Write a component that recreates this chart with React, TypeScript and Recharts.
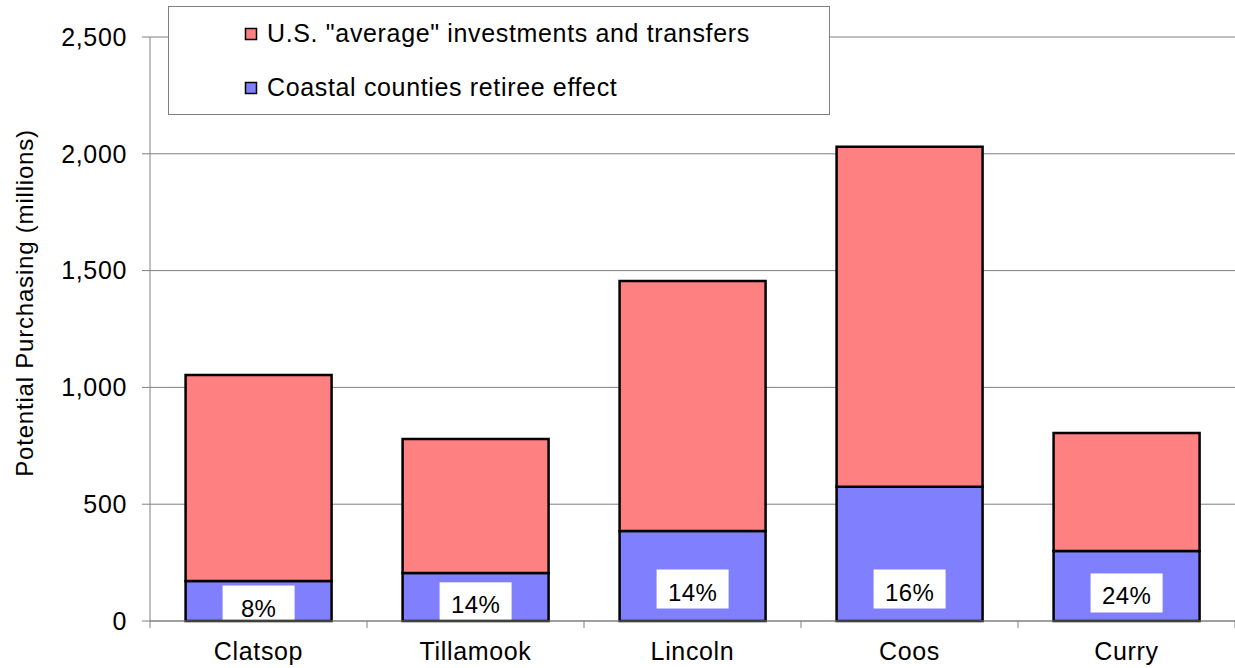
import React from "react";
import { BarChart, Bar, XAxis, YAxis, CartesianGrid, Legend, LabelList } from "recharts";

const counties = ["Clatsop", "Tillamook", "Lincoln", "Coos", "Curry"];
const retireeEffect = [171, 205, 385, 575, 300];
const usAverage = [882, 574, 1070, 1455, 505];
const retireeShareLabels = ["8%", "14%", "14%", "16%", "24%"];
const yTicks = [0, 500, 1000, 1500, 2000, 2500];
const seriesNames = {
  retiree: "Coastal counties retiree effect",
  average: 'U.S. "average" investments and transfers',
};

const data = counties.map((c, i) => ({
  county: c,
  retiree: retireeEffect[i],
  average: usAverage[i],
  share: retireeShareLabels[i],
}));

const FONT = '"Liberation Sans", Arial, sans-serif';
const GRAY = "#808080";
const RED = "#FF8080";
const BLUE = "#8080FF";
const FS = 25;
const LS = 0.65;

const CategoryTick = (props: any) => {
  const { x, y, payload, index, visibleTicksCount } = props;
  const half = payload && payload.offset != null ? payload.offset : 108.5;
  return (
    <g>
      <line x1={x - half} x2={x - half} y1={y} y2={y + 7} stroke={GRAY} strokeWidth={1} />
      {index === visibleTicksCount - 1 && (
        <line x1={x + half} x2={x + half} y1={y} y2={y + 7} stroke={GRAY} strokeWidth={1} />
      )}
      <text
        x={x}
        y={y + 39}
        textAnchor="middle"
        fill="#000"
        fontSize={FS}
        fontFamily={FONT}
        letterSpacing={LS}
      >
        {payload.value}
      </text>
    </g>
  );
};

const ShareLabel = (props: any) => {
  const { x, y, width, height, value } = props;
  const bottom = y + height;
  const cy = bottom - Math.min(height * 0.4, 32);
  const bw = 72;
  const bh = 39;
  const top = cy - bh / 2;
  const boxBottom = Math.min(cy + bh / 2, bottom - 1.5);
  const cx = x + width / 2;
  return (
    <g>
      <rect x={cx - bw / 2} y={top} width={bw} height={boxBottom - top} fill="#fff" />
      <text
        x={cx}
        y={cy + 3}
        textAnchor="middle"
        dominantBaseline="central"
        fill="#000"
        fontSize={24}
        fontFamily={FONT}
        letterSpacing={0.3}
      >
        {value}
      </text>
    </g>
  );
};

const LegendBox = (props: any) => {
  const payload = (props.payload || []).slice().reverse();
  return (
    <svg width={663} height={109} style={{ display: "block" }}>
      <rect x={0.5} y={0.5} width={661} height={108} fill="#fff" stroke={GRAY} strokeWidth={1} />
      {payload.map((p: any, i: number) => {
        const baseline = 36 + i * 54;
        return (
          <g key={i}>
            <rect x={77.5} y={baseline - 13.5} width={11} height={11} fill={p.color} stroke="#000" strokeWidth={1.5} />
            <text x={99} y={baseline} fill="#000" fontSize={FS} fontFamily={FONT} letterSpacing={LS}>
              {p.value}
            </text>
          </g>
        );
      })}
    </svg>
  );
};

const YTitle = () => (
  <text
    x={24}
    y={303}
    transform="rotate(-90, 24, 303)"
    textAnchor="middle"
    dominantBaseline="central"
    fill="#000"
    fontSize={24}
    fontFamily={FONT}
    letterSpacing={0.8}
  >
    Potential Purchasing (millions)
  </text>
);

export default function App() {
  return (
    <div style={{ position: "absolute", left: 0, top: 0, width: 1235, height: 668, background: "#fff" }}>
      <BarChart
        width={1235}
        height={668}
        data={data}
        margin={{ top: 37, right: 0, bottom: 0, left: 0 }}
        barCategoryGap="16.4%"
      >
        <CartesianGrid vertical={false} stroke={GRAY} strokeWidth={1} />
        <XAxis
          dataKey="county"
          height={47}
          axisLine={{ stroke: GRAY, strokeWidth: 1 }}
          tickLine={false}
          tickSize={0}
          tickMargin={0}
          tick={<CategoryTick />}
          interval={0}
        />
        <YAxis
          width={150}
          domain={[0, 2500]}
          ticks={yTicks}
          interval={0}
          axisLine={{ stroke: GRAY, strokeWidth: 1 }}
          tickLine={{ stroke: GRAY, strokeWidth: 1 }}
          tickSize={8}
          tickMargin={15}
          tickFormatter={(v: number) => v.toLocaleString("en-US")}
          tick={{ fill: "#000", fontSize: FS, fontFamily: FONT, letterSpacing: LS }}
          label={{ content: () => <YTitle /> }}
        />
        <Legend
          layout="horizontal"
          verticalAlign="middle"
          align="center"
          content={<LegendBox />}
          wrapperStyle={{ position: "absolute", left: 168, top: 6, width: 663, height: 109 }}
        />
        <Bar
          dataKey="retiree"
          name={seriesNames.retiree}
          stackId="a"
          fill={BLUE}
          stroke="#000"
          strokeWidth={2.5}
          isAnimationActive={false}
        >
          <LabelList dataKey="share" content={<ShareLabel />} />
        </Bar>
        <Bar
          dataKey="average"
          name={seriesNames.average}
          stackId="a"
          fill={RED}
          stroke="#000"
          strokeWidth={2.5}
          isAnimationActive={false}
        />
      </BarChart>
    </div>
  );
}
